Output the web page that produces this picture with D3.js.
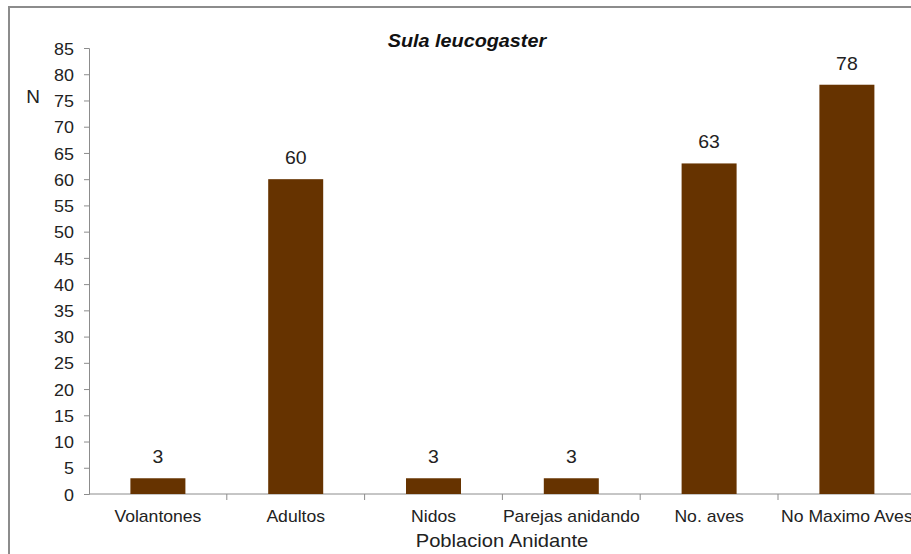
<!DOCTYPE html>
<html>
<head>
<meta charset="utf-8">
<script src="https://cdn.jsdelivr.net/npm/d3@7"></script>
<style>
  html, body { margin: 0; padding: 0; background: #fff; }
  svg { display: block; font-family: "Liberation Sans", Arial, sans-serif; }
</style>
</head>
<body>
<svg id="chart" width="911" height="554"></svg>
<script>
// Nesting population counts for Sula leucogaster
const categories = ["Volantones", "Adultos", "Nidos", "Parejas anidando", "No. aves", "No Maximo Aves"];
const counts = [3, 60, 3, 3, 63, 78];
const yTicks = d3.range(0, 86, 5);

const svg = d3.select("#chart");
const W = 911, H = 554;
const m = { left: 89, top: 48, bottom: 494 };
const bandW = 137.8;
const ink = "#222";
const axisGrey = "#8c8c8c";

// slightly wide lettering: text placed at (x, y) and stretched horizontally
function wideText(sel, x, y, sx) {
  return sel.attr("x", 0).attr("y", 0)
    .attr("transform", (d, i) => `translate(${typeof x === "function" ? x(d, i) : x},${typeof y === "function" ? y(d, i) : y}) scale(${sx},1)`);
}

// outer frame
svg.append("rect")
  .attr("x", 9).attr("y", 7)
  .attr("width", W + 20).attr("height", H + 20)
  .attr("fill", "#fff")
  .attr("stroke", axisGrey).attr("stroke-width", 2);

const x = d3.scaleBand()
  .domain(categories)
  .range([m.left, m.left + bandW * categories.length])
  .paddingInner(0).paddingOuter(0);

const y = d3.scaleLinear().domain([0, 85]).range([m.bottom, m.top]);

// y axis
const yAxis = svg.append("g")
  .attr("transform", `translate(${m.left},0)`)
  .call(d3.axisLeft(y).tickValues(yTicks).tickSize(5).tickPadding(10));
yAxis.select(".domain").attr("stroke", axisGrey);
yAxis.selectAll(".tick line").attr("stroke", axisGrey);
yAxis.selectAll(".tick text")
  .attr("font-size", 16).attr("fill", ink)
  .attr("font-family", "Liberation Sans, Arial, sans-serif")
  .attr("x", 0)
  .attr("transform", "translate(-15,1) scale(1.12,1)");

// x axis: ticks at category boundaries
svg.append("line")
  .attr("x1", m.left).attr("x2", W + 10)
  .attr("y1", y(0)).attr("y2", y(0))
  .attr("stroke", axisGrey);
svg.selectAll(".xtick")
  .data(categories.slice(1))
  .join("line")
  .attr("class", "xtick")
  .attr("x1", d => x(d)).attr("x2", d => x(d))
  .attr("y1", y(0)).attr("y2", y(0) + 6)
  .attr("stroke", axisGrey);
svg.selectAll(".xlabel")
  .data(categories)
  .join("text")
  .attr("class", "xlabel")
  .call(wideText, d => x(d) + x.bandwidth() / 2, 522, 1.1)
  .attr("text-anchor", "middle")
  .attr("font-size", 16).attr("fill", ink)
  .text(d => d);

// bars
const barW = 55;
svg.selectAll(".bar")
  .data(categories)
  .join("rect")
  .attr("class", "bar")
  .attr("x", d => x(d) + x.bandwidth() / 2 - barW / 2)
  .attr("width", barW)
  .attr("y", (d, i) => y(counts[i]))
  .attr("height", (d, i) => y(0) - y(counts[i]))
  .attr("fill", "#663300");

// value labels
svg.selectAll(".val")
  .data(categories)
  .join("text")
  .attr("class", "val")
  .call(wideText, d => x(d) + x.bandwidth() / 2, (d, i) => y(counts[i]) - 15, 1.08)
  .attr("text-anchor", "middle")
  .attr("font-size", 18).attr("fill", ink)
  .text((d, i) => counts[i]);

// titles
svg.append("text")
  .call(wideText, 467, 47, 1.1)
  .attr("text-anchor", "middle")
  .attr("font-size", 18).attr("font-weight", "bold").attr("font-style", "italic")
  .attr("fill", "#111")
  .text("Sula leucogaster");

svg.append("text")
  .call(wideText, 502, 547, 1.12)
  .attr("text-anchor", "middle")
  .attr("font-size", 18).attr("fill", ink)
  .text("Poblacion Anidante");

svg.append("text")
  .call(wideText, 33, 103, 1.0)
  .attr("text-anchor", "middle")
  .attr("font-size", 19).attr("fill", ink)
  .text("N");
</script>
</body>
</html>
